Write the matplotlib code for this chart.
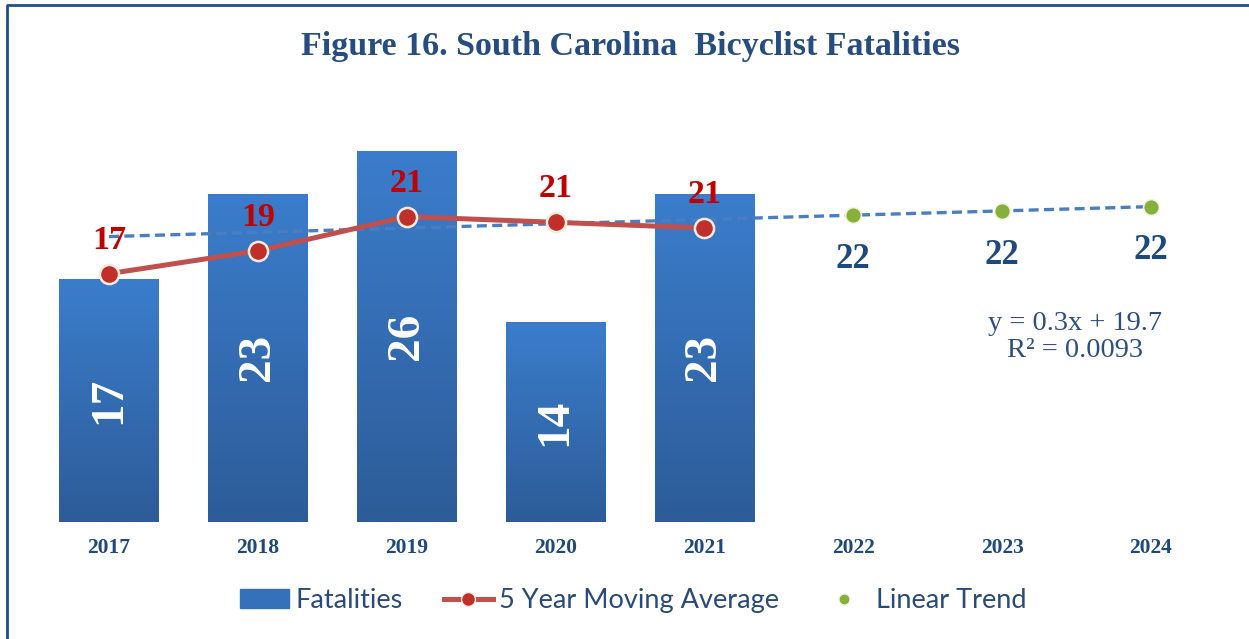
import numpy as np
import matplotlib
matplotlib.use("Agg")
import matplotlib.pyplot as plt
from matplotlib.lines import Line2D

# data
years = [2017, 2018, 2019, 2020, 2021, 2022, 2023, 2024]
bar_years = [2017, 2018, 2019, 2020, 2021]
fatalities = [17, 23, 26, 14, 23]
moving_avg = [17.4, 19.0, 21.4, 21.0, 20.6]
ma_labels = ["17", "19", "21", "21", "21"]
trend_years = [2022, 2023, 2024]
trend_vals = [21.5, 21.8, 22.1]
trend_labels = ["22", "22", "22"]
trend_line_years = [2017, 2024]
trend_line_vals = [20.0, 22.1]
equation = "y = 0.3x + 19.7\nR\u00b2 = 0.0093"

navy = "#1F497D"
serif = "Liberation Serif"

fig = plt.figure(figsize=(12.49, 6.39), dpi=100)
ax = fig.add_axes([0.0277, 0.1831, 0.9534, 0.670])
ax.set_xlim(2016.5, 2024.5)
ax.set_ylim(0, 30)
ax.axis("off")

# bars with a vertical gradient
bars = ax.bar(bar_years, fatalities, width=0.67, color="none", zorder=2)
grad = np.linspace(0, 1, 256).reshape(-1, 1)
cmap = matplotlib.colors.LinearSegmentedColormap.from_list("b", ["#2D5C98", "#3B7DCC"])
for b, v in zip(bars, fatalities):
    x0 = b.get_x()
    w = b.get_width()
    im = ax.imshow(grad, cmap=cmap, origin="lower", aspect="auto",
                   extent=[x0, x0 + w, 0, v], zorder=2)
    im.set_clip_path(b)
    ax.text(x0 + w / 2, v / 2, str(v), rotation=90, ha="center", va="center",
            color="white", fontsize=34, fontweight="bold", family=serif, zorder=5)

# trend line
ax.plot(trend_line_years, trend_line_vals, color="#4A7EC1", lw=2.4,
        dashes=(3, 1.6), zorder=3)
ax.scatter(trend_years, trend_vals, s=130, color="#86B03A", edgecolor="#F2F2E6",
           linewidth=1.2, zorder=4)
for x, v, t in zip(trend_years, trend_vals, trend_labels):
    ax.text(x, v - 3.1, t, ha="center", va="center", color=navy,
            fontsize=25, fontweight="bold", family=serif)

# moving average
ax.plot(bar_years, moving_avg, color="#C0504D", lw=3.6, zorder=4)
ax.scatter(bar_years, moving_avg, s=190, color="#C0302A", edgecolor="#F5EBDD",
           linewidth=1.8, zorder=5)
for x, v, t in zip(bar_years, moving_avg, ma_labels):
    ax.text(x, v + 2.35, t, ha="center", va="center", color="#C00000",
            fontsize=24.5, fontweight="bold", family=serif, zorder=6)

# year labels
for y in years:
    ax.text(y, -1.8, str(y), ha="center", va="center", color=navy,
            fontsize=15.5, fontweight="bold", family=serif)

ax.text(2023.49, 12.96, equation, ha="center", va="center", color="#2E4E7E",
        fontsize=20.5, family=serif, linespacing=1.12)

fig.text(0.505, 0.928, "Figure 16. South Carolina  Bicyclist Fatalities",
         ha="center", va="center", color="#274D80", fontsize=24.5,
         fontweight="bold", family=serif)

# legend
handles = [
    plt.Rectangle((0, 0), 1, 1, color="#3570BA"),
    Line2D([], [], color="#C0504D", lw=3.6, marker="o", markersize=10,
           markerfacecolor="#C0302A", markeredgecolor="#F5EBDD"),
    Line2D([], [], color="none", marker="o", markersize=8,
           markerfacecolor="#86B03A", markeredgecolor="#F2F2E6"),
]
fig.legend(handles, ["Fatalities", "5 Year Moving Average", "Linear Trend"],
           loc="center", bbox_to_anchor=(0.507, 0.06), ncol=3, frameon=False,
           prop={"family": "Lato", "size": 19.5}, labelcolor="#2A4A7A",
           handlelength=1.8, handletextpad=0.25, columnspacing=1.5)

# frame on left and top
fig.add_artist(Line2D([0.0056, 0.0056, 1.0], [0.0, 0.9914, 0.9914],
                      color="#1F4E8C", lw=2, transform=fig.transFigure))

fig.savefig("out.png", dpi=100)
